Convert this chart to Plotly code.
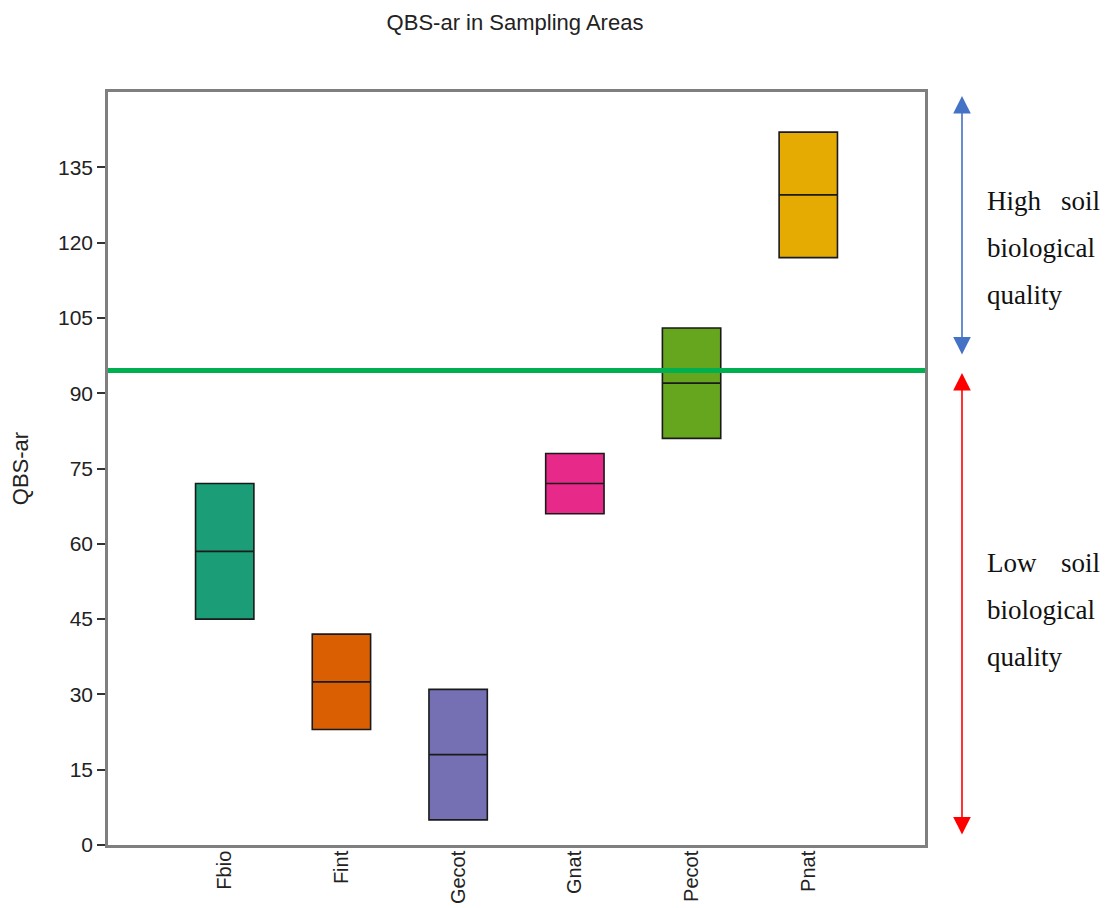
import plotly.graph_objects as go

categories = ["Fbio", "Fint", "Gecot", "Gnat", "Pecot", "Pnat"]
q1 = [45, 23, 5, 66, 81, 117]
median = [58.5, 32.5, 18, 72, 92, 129.5]
q3 = [72, 42, 31, 78, 103, 142]
lower = [45, 23, 5, 66, 81, 117]
upper = [72, 42, 31, 78, 103, 142]
colors = ["#1b9e77", "#d95f02", "#7570b3", "#e7298a", "#66a61e", "#e6ab02"]
threshold = 94.5
y_ticks = [0, 15, 30, 45, 60, 75, 90, 105, 120, 135]

# page body has an 8px default margin; compensate so the plot lands in place
OFF = 8
W, H = 1112 - OFF, 908 - OFF
PL, PT, PR, PB = 108, 92, 925, 845  # plot frame in page pixels
PW, PH = PR - PL, PB - PT

def px(xp):
    return (xp - PL) / PW

def py(yp):
    return (PB - yp) / PH

fig = go.Figure()
for i, c in enumerate(categories):
    fig.add_trace(go.Box(
        x=[c], q1=[q1[i]], median=[median[i]], q3=[q3[i]],
        lowerfence=[lower[i]], upperfence=[upper[i]],
        fillcolor=colors[i], line=dict(color="#1a1a1a", width=1.6),
        width=0.5, whiskerwidth=0.4, boxpoints=False, showlegend=False,
        hoverinfo="skip",
    ))

fig.add_shape(type="line", xref="paper", yref="y", x0=0, x1=1,
              y0=threshold, y1=threshold,
              line=dict(color="#00b050", width=5), layer="above")

# arrows
arrow_x = px(962)
fig.add_annotation(xref="paper", yref="paper", x=arrow_x, y=py(96), ax=0, ay=260,
                   axref="pixel", ayref="pixel", text="", showarrow=True,
                   arrowside="end+start", arrowhead=2, arrowsize=2.2,
                   arrowwidth=1.6, arrowcolor="#4472c4", standoff=0, startstandoff=0)
fig.add_annotation(xref="paper", yref="paper", x=arrow_x, y=py(373), ax=0, ay=463,
                   axref="pixel", ayref="pixel", text="", showarrow=True,
                   arrowside="end+start", arrowhead=2, arrowsize=2.2,
                   arrowwidth=1.6, arrowcolor="#ff0000", standoff=0, startstandoff=0)

serif = dict(family="Liberation Serif, Times New Roman, serif", size=27, color="#111111")

def side_text(lines, y_top):
    for j, ln in enumerate(lines):
        yy = y_top + j * 47
        if isinstance(ln, tuple):
            fig.add_annotation(xref="paper", yref="paper", x=px(985), y=py(yy),
                               text=ln[0], showarrow=False,
                               xanchor="left", yanchor="middle", font=serif)
            fig.add_annotation(xref="paper", yref="paper", x=px(1102), y=py(yy),
                               text=ln[1], showarrow=False,
                               xanchor="right", yanchor="middle", font=serif)
        else:
            fig.add_annotation(xref="paper", yref="paper", x=px(985), y=py(yy),
                               text=ln, showarrow=False,
                               xanchor="left", yanchor="middle", font=serif)

side_text([("High", "soil"), "biological", "quality"], 201)
side_text([("Low", "soil"), "biological", "quality"], 563)

fig.update_layout(
    width=W, height=H,
    margin=dict(l=PL - OFF, r=1112 - PR, t=PT - OFF, b=908 - PB, autoexpand=False),
    paper_bgcolor="white", plot_bgcolor="white",
    font=dict(family="Arial, Liberation Sans, sans-serif", color="#222222"),
    title=dict(text="QBS-ar in Sampling Areas", x=(515 - OFF) / W, xanchor="center",
               y=1 - (22 - OFF) / H, yanchor="middle",
               font=dict(size=22, color="#222222")),
    xaxis=dict(type="category", categoryorder="array", categoryarray=categories,
               range=[-1, 6], showgrid=False, zeroline=False, automargin=False,
               showline=True, linecolor="#7f7f7f", linewidth=2.5, mirror=True,
               ticks="", ticklen=0, tickangle=-90, ticklabelstandoff=-5,
               tickfont=dict(size=20, color="#222222")),
    yaxis=dict(range=[0, 150], tickvals=y_ticks, showgrid=False, zeroline=False,
               automargin=False,
               showline=True, linecolor="#7f7f7f", linewidth=2.5, mirror=True,
               ticks="outside", ticklen=8, tickwidth=2, tickcolor="#333333",
               tickfont=dict(size=21, color="#222222"),
               title=dict(text="QBS-ar", font=dict(size=22, color="#222222"), standoff=28)),
)

fig.write_html("out.html")
